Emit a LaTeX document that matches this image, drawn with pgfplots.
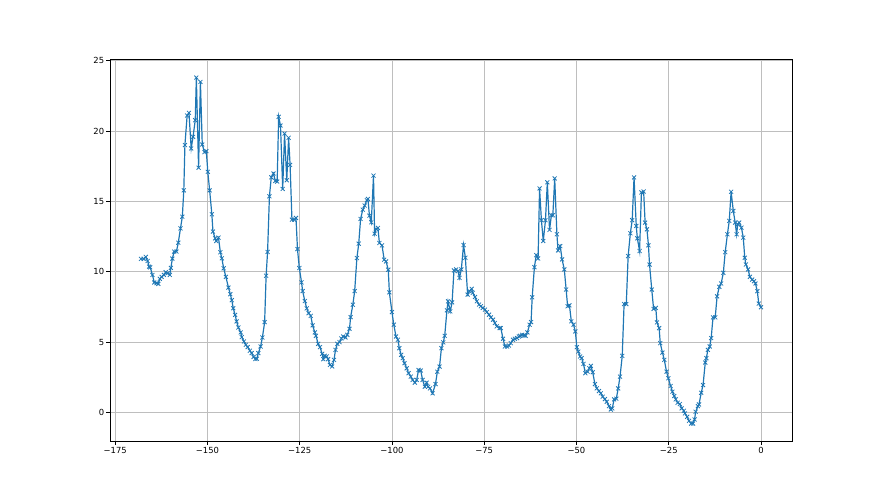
\documentclass[border=0pt]{standalone}
\usepackage{fontspec}
\setmainfont{DejaVu Sans}
\usepackage{pgfplots}
\pgfplotsset{compat=1.18}
\definecolor{mplblue}{HTML}{1F77B4}
\definecolor{gridgray}{HTML}{BEBEBE}

\begin{document}
\begin{tikzpicture}
\path[use as bounding box] (0pt,0pt) rectangle (440pt,247.5pt);
\begin{axis}[
    at={(55pt,27pt)}, anchor=south west,
    width=341pt, height=191pt, scale only axis,
    xmin=-176.4, xmax=8.4, ymin=-2.03, ymax=25.13,
    xtick={-175,-150,-125,-100,-75,-50,-25,0},
    xticklabels={−175,−150,−125,−100,−75,−50,−25,0},
    ytick={0,5,10,15,20,25},
    yticklabels={0,5,10,15,20,25},
    tick label style={font=\fontsize{4.2}{5}\selectfont, inner sep=1pt},
    xtick pos=bottom, ytick pos=left,
    tick align=outside, major tick length=1.75pt,
    tick style={black, line width=0.4pt},
    axis line style={black, line width=0.4pt},
    grid=major, major grid style={gridgray, line width=0.35pt},
]
\addplot[mplblue, line width=0.6pt, mark=x, mark size=1.4pt,
         mark options={line width=0.4pt}] table {
x y
-168.0 10.92
-167.3 10.92
-166.7 11.06
-166.2 10.77
-165.8 10.37
-165.5 10.32
-164.9 9.78
-164.4 9.24
-163.8 9.19
-163.3 9.14
-162.9 9.50
-162.4 9.64
-161.8 9.78
-161.3 9.97
-160.8 9.90
-160.2 9.78
-159.9 10.28
-159.5 10.94
-159.0 11.44
-158.4 11.44
-157.9 12.07
-157.3 13.09
-156.8 13.92
-156.4 15.79
-156.1 19.01
-155.5 21.11
-155.0 21.30
-154.4 18.77
-153.9 19.60
-153.3 20.78
-153.0 23.81
-152.4 17.40
-151.9 23.50
-151.4 19.05
-150.8 18.51
-150.3 18.58
-149.9 17.11
-149.4 15.79
-148.8 14.09
-148.5 12.86
-147.9 12.38
-147.6 12.19
-147.0 12.43
-146.5 11.39
-146.1 10.96
-145.6 10.25
-145.0 9.64
-144.3 8.88
-143.8 8.41
-143.4 7.98
-143.0 7.41
-142.5 6.94
-142.1 6.47
-141.6 6.04
-141.0 5.69
-140.7 5.36
-140.1 5.05
-139.6 4.81
-139.1 4.65
-138.5 4.39
-138.0 4.22
-137.5 3.95
-137.0 3.80
-136.6 3.82
-136.2 4.22
-135.6 4.69
-135.1 5.33
-134.5 6.42
-134.1 9.72
-133.7 11.41
-133.2 15.37
-132.7 16.72
-132.1 16.99
-131.6 16.46
-131.1 16.42
-130.7 21.02
-130.2 20.40
-129.6 15.89
-129.1 19.83
-128.5 16.51
-128.0 19.53
-127.6 17.60
-127.1 13.71
-126.5 13.71
-126.0 13.83
-125.6 11.62
-125.1 10.27
-124.5 9.25
-124.2 8.63
-123.6 7.92
-123.1 7.40
-122.6 7.06
-122.0 6.87
-121.5 6.19
-120.9 5.69
-120.6 5.45
-120.0 4.88
-119.5 4.64
-118.9 4.17
-118.6 3.79
-118.2 4.03
-117.7 3.98
-117.3 3.79
-116.8 3.38
-116.2 3.27
-115.7 3.74
-115.3 4.45
-114.8 4.88
-114.2 5.00
-113.7 5.26
-113.2 5.40
-112.6 5.33
-112.1 5.52
-111.5 5.95
-111.2 6.78
-110.6 7.66
-110.1 8.63
-109.5 10.98
-109.0 12.00
-108.5 13.76
-107.9 14.42
-107.4 14.71
-106.8 15.09
-106.5 15.18
-106.1 13.99
-105.6 13.52
-105.0 16.84
-104.7 12.71
-104.3 13.05
-103.8 13.12
-103.4 12.05
-102.7 11.88
-102.1 10.86
-101.6 10.74
-101.0 10.15
-100.7 8.54
-100.0 7.14
-99.5 6.24
-98.9 5.40
-98.4 5.17
-98.0 4.57
-97.5 4.10
-97.1 3.86
-96.6 3.50
-96.0 3.14
-95.5 2.79
-94.9 2.55
-94.4 2.31
-93.8 2.12
-93.3 2.31
-92.8 3.02
-92.2 2.98
-91.7 2.31
-91.1 1.83
-90.6 2.12
-90.2 1.83
-89.7 1.71
-89.0 1.36
-88.2 2.02
-87.7 2.90
-87.1 3.26
-86.6 4.57
-86.1 4.98
-85.7 5.45
-85.1 7.26
-84.8 7.90
-84.2 7.19
-83.7 7.83
-83.2 10.10
-82.6 10.17
-82.1 10.05
-81.7 9.57
-81.2 10.17
-80.6 11.90
-80.1 11.00
-79.5 8.38
-79.0 8.62
-78.4 8.79
-78.1 8.50
-77.5 8.21
-77.0 7.90
-76.4 7.67
-75.9 7.55
-75.4 7.43
-74.8 7.31
-74.3 7.14
-73.7 6.95
-73.2 6.76
-72.6 6.60
-72.1 6.36
-71.6 6.12
-70.8 6.00
-70.5 6.00
-69.9 5.24
-69.4 4.69
-68.8 4.69
-68.3 4.76
-67.8 4.93
-67.2 5.17
-66.7 5.24
-66.1 5.29
-65.6 5.40
-65.3 5.45
-64.7 5.52
-64.2 5.48
-63.8 5.45
-63.3 5.69
-62.7 6.24
-62.3 6.43
-62.0 8.19
-61.4 10.33
-60.9 11.19
-60.4 10.95
-60.0 15.93
-59.5 13.67
-59.0 12.19
-58.4 13.67
-57.9 16.36
-57.3 12.98
-56.8 14.02
-56.4 14.02
-55.9 16.64
-55.3 12.67
-55.0 11.52
-54.4 11.83
-53.9 10.88
-53.3 10.17
-52.8 8.74
-52.4 7.55
-51.9 7.62
-51.4 6.48
-50.8 6.24
-50.3 5.76
-49.9 4.64
-49.5 4.33
-49.0 3.98
-48.6 3.86
-48.1 3.45
-47.6 2.79
-47.0 2.90
-46.5 3.14
-46.1 3.31
-45.6 2.86
-45.0 2.02
-44.5 1.71
-43.9 1.52
-43.4 1.36
-42.9 1.12
-42.3 0.95
-41.8 0.76
-41.2 0.45
-40.7 0.21
-40.3 0.29
-39.8 0.93
-39.2 0.98
-38.7 1.71
-38.2 2.55
-37.6 4.02
-37.1 7.71
-36.5 7.71
-36.0 11.12
-35.4 12.74
-34.9 13.67
-34.4 16.71
-33.8 13.26
-33.5 12.38
-32.9 11.48
-32.4 15.64
-31.8 15.71
-31.4 13.50
-30.9 13.02
-30.5 11.88
-30.2 10.52
-29.6 8.74
-29.1 7.36
-28.5 7.43
-28.2 6.40
-27.6 6.00
-27.3 4.93
-26.7 4.26
-26.2 3.74
-25.6 2.90
-25.1 2.43
-24.5 1.88
-24.0 1.48
-23.5 1.17
-23.1 0.93
-22.6 0.69
-22.0 0.60
-21.5 0.29
-20.9 0.12
-20.6 -0.07
-20.0 -0.31
-19.5 -0.60
-18.9 -0.79
-18.4 -0.79
-18.0 -0.50
-17.7 0.05
-17.1 0.45
-16.8 0.57
-16.2 1.40
-15.7 1.95
-15.1 3.55
-14.8 3.86
-14.4 4.45
-13.9 4.69
-13.5 5.29
-13.0 6.76
-12.4 6.76
-11.9 8.26
-11.3 8.93
-10.8 9.17
-10.2 9.93
-9.7 11.40
-9.1 12.67
-8.6 13.62
-8.1 15.69
-7.5 14.33
-7.0 13.50
-6.6 12.67
-6.3 13.38
-5.9 13.50
-5.3 13.14
-4.8 12.43
-4.4 11.00
-4.1 10.52
-3.5 10.17
-3.0 9.64
-2.4 9.45
-1.9 9.33
-1.5 9.17
-1.0 8.62
-0.6 7.74
0.0 7.48
};
\end{axis}
\end{tikzpicture}
\end{document}
